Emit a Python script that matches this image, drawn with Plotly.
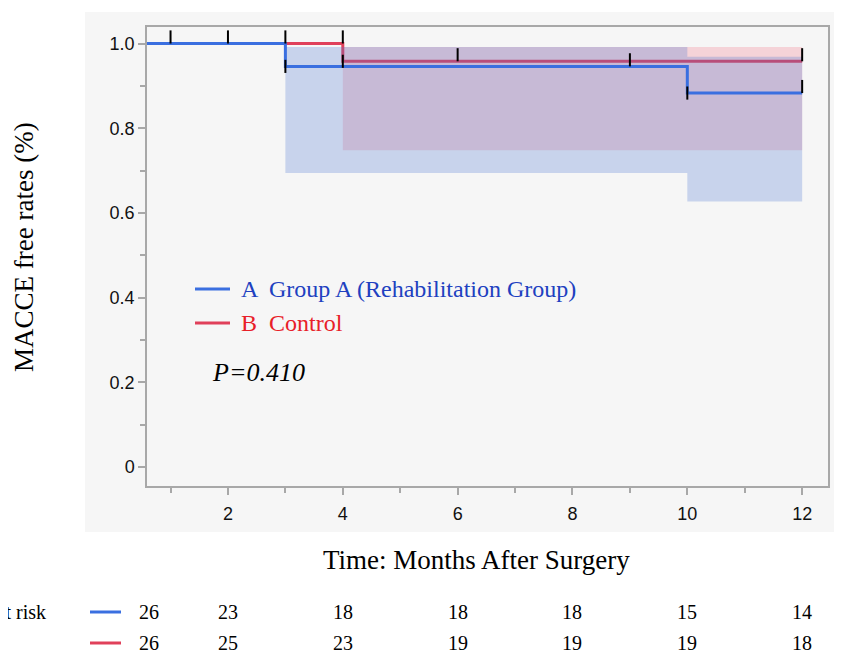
import plotly.graph_objects as go

# ---------------- data ----------------
A_times = [0, 3, 10, 12]
A_surv = [1.0, 0.946, 0.883, 0.883]
B_times = [0, 4, 12]
B_surv = [1.0, 0.958, 0.958]

A_band_t = [3, 10, 12]
A_band_lo = [0.694, 0.627, 0.627]
A_band_hi = [0.992, 0.969, 0.969]
B_band_t = [4, 12]
B_band_lo = [0.748, 0.748]
B_band_hi = [0.992, 0.992]

cens_A_t = [1, 2, 3, 9, 10, 12]
cens_A_s = [1.0, 1.0, 0.946, 0.946, 0.883, 0.883]
cens_A_pos = ["up", "up", "mid", "up", "mid", "up"]
cens_B_t = [3, 4, 4, 6, 12]
cens_B_s = [1.0, 1.0, 0.958, 0.958, 0.958]
cens_B_pos = ["up", "up", "mid", "up", "up"]

risk_times = [0, 2, 4, 6, 8, 10, 12]
risk_A = [26, 23, 18, 18, 18, 15, 14]
risk_B = [26, 25, 23, 19, 19, 19, 18]

y_ticks = [0, 0.2, 0.4, 0.6, 0.8, 1.0]
y_ticktext = ["0", "0.2", "0.4", "0.6", "0.8", "1.0"]

group_names = ["A  Group A (Rehabilitation Group)", "B  Control"]
p_text = "P=0.410"

# ---------------- style ----------------
BLUE = "#3a6fe0"
RED = "#e0405a"
BLUE_FILL = "rgba(76,119,212,0.27)"
RED_FILL = "#f5d3d8"
SERIF = "Liberation Serif, Times New Roman, serif"
SANS = "Liberation Sans, Arial, sans-serif"
XMIN, XMAX = 0.59, 12.45
YMIN, YMAX = -0.045, 1.039


def band_polygon(t, lo, hi, t_end):
    xs, ys = [], []
    for i in range(len(t)):
        x0 = t[i]
        x1 = t[i + 1] if i + 1 < len(t) else t_end
        xs += [x0, x1]
        ys += [hi[i], hi[i]]
    for i in reversed(range(len(t))):
        x0 = t[i]
        x1 = t[i + 1] if i + 1 < len(t) else t_end
        xs += [x1, x0]
        ys += [lo[i], lo[i]]
    return xs, ys


def censor_segments(ts, ss, pos, L=0.031):
    xs, ys = [], []
    for t, s, p in zip(ts, ss, pos):
        if p == "up":
            y0, y1 = s, s + L
        else:
            y0, y1 = s - L / 2, s + L / 2
        xs += [t, t, None]
        ys += [y0, y1, None]
    return xs, ys


fig = go.Figure()

# red band, red line
bx, by = band_polygon(B_band_t, B_band_lo, B_band_hi, B_band_t[-1])
fig.add_trace(go.Scatter(x=bx, y=by, fill="toself", fillcolor=RED_FILL,
                         line=dict(width=0), mode="lines", hoverinfo="skip",
                         showlegend=False))
fig.add_trace(go.Scatter(x=B_times, y=B_surv, mode="lines", line_shape="hv",
                         line=dict(color=RED, width=3), showlegend=False))
# blue band, blue line
ax, ay = band_polygon(A_band_t, A_band_lo, A_band_hi, A_band_t[-1])
fig.add_trace(go.Scatter(x=ax, y=ay, fill="toself", fillcolor=BLUE_FILL,
                         line=dict(width=0), mode="lines", hoverinfo="skip",
                         showlegend=False))
fig.add_trace(go.Scatter(x=A_times, y=A_surv, mode="lines", line_shape="hv",
                         line=dict(color=BLUE, width=3), showlegend=False))

# censor marks
for ts, ss, pos in [(cens_B_t, cens_B_s, cens_B_pos), (cens_A_t, cens_A_s, cens_A_pos)]:
    cx, cy = censor_segments(ts, ss, pos)
    fig.add_trace(go.Scatter(x=cx, y=cy, mode="lines",
                             line=dict(color="black", width=2),
                             showlegend=False, hoverinfo="skip"))

# geometry: the page body adds an 8px offset, so the figure is 8px smaller
OFF = 8
W, H = 842 - OFF, 653 - OFF
L_, T_ = 147 - OFF, 27 - OFF
R_ = W - (828 - OFF)
B_ = H - (486 - OFF)
pw, ph = W - L_ - R_, H - T_ - B_


def px(x):
    # x given in reference-window pixels
    return (x - OFF - L_) / pw


def py(y):
    return (H - B_ - (y - OFF)) / ph


shapes = [
    dict(type="rect", xref="paper", yref="paper", x0=px(85), x1=px(850),
         y0=py(532), y1=py(12), fillcolor="#f6f6f6", line=dict(width=0),
         layer="below"),
]
annotations = []

# legend inside plot
leg_cols = [BLUE, RED]
leg_txt_cols = ["#2040c0", "#e82028"]
for i, (name, lc, tc) in enumerate(zip(group_names, leg_cols, leg_txt_cols)):
    yy = 289 + i * 34
    shapes.append(dict(type="line", xref="paper", yref="paper",
                       x0=px(195), x1=px(230), y0=py(yy), y1=py(yy),
                       line=dict(color=lc, width=3)))
    annotations.append(dict(xref="paper", yref="paper", x=px(239), y=py(yy),
                            text=name, showarrow=False, xanchor="left",
                            yanchor="middle",
                            font=dict(family=SERIF, size=24, color=tc)))
annotations.append(dict(xref="paper", yref="paper", x=px(210), y=py(372),
                        text="<i>" + p_text + "</i>", showarrow=False,
                        xanchor="left", yanchor="middle",
                        font=dict(family=SERIF, size=26, color="black")))

# axis titles
annotations.append(dict(xref="paper", yref="paper", x=px(476), y=py(560),
                        text="Time: Months After Surgery", showarrow=False,
                        xanchor="center", yanchor="middle",
                        font=dict(family=SERIF, size=27, color="black")))
annotations.append(dict(xref="paper", yref="paper", x=px(24), y=py(247),
                        text="MACCE free rates (%)", showarrow=False,
                        textangle=-90, xanchor="center", yanchor="middle",
                        font=dict(family=SERIF, size=27, color="black")))

# at risk table
annotations.append(dict(xref="paper", yref="paper", x=px(48), y=py(612),
                        text="At risk", showarrow=False, xanchor="right",
                        yanchor="middle",
                        font=dict(family=SERIF, size=20, color="black")))
for j, (vals, col) in enumerate([(risk_A, BLUE), (risk_B, RED)]):
    yy = 612 + j * 31
    shapes.append(dict(type="line", xref="paper", yref="paper",
                       x0=px(90), x1=px(121), y0=py(yy), y1=py(yy),
                       line=dict(color=col, width=3)))
    for t, v in zip(risk_times, vals):
        xt = max(t, XMIN + 0.04)
        annotations.append(dict(xref="x", yref="paper", x=xt, y=py(yy),
                                text=str(v), showarrow=False,
                                xanchor="center", yanchor="middle",
                                font=dict(family=SERIF, size=20, color="black")))

axis_common = dict(showline=True, linecolor="#a8a8a8", linewidth=1.5,
                   mirror=True, ticks="outside", tickcolor="#a8a8a8",
                   ticklen=7, tickwidth=1.5, showgrid=False, zeroline=False,
                   tickfont=dict(family=SANS, size=18, color="#111"))

fig.update_layout(
    width=W, height=H,
    margin=dict(l=L_, r=R_, t=T_, b=B_),
    paper_bgcolor="white", plot_bgcolor="white",
    showlegend=False,
    xaxis=dict(range=[XMIN, XMAX], tickvals=[2, 4, 6, 8, 10, 12],
               ticklabelstandoff=4,
               minor=dict(tickvals=[1, 3, 5, 7, 9, 11], ticks="outside",
                          ticklen=5, tickcolor="#a8a8a8", tickwidth=1.5),
               **axis_common),
    yaxis=dict(range=[YMIN, YMAX], tickvals=y_ticks, ticktext=y_ticktext,
               minor=dict(tickvals=[0.1, 0.3, 0.5, 0.7, 0.9], ticks="outside",
                          ticklen=5, tickcolor="#a8a8a8", tickwidth=1.5),
               **axis_common),
    shapes=shapes,
    annotations=annotations,
)

fig.write_html("out.html")
